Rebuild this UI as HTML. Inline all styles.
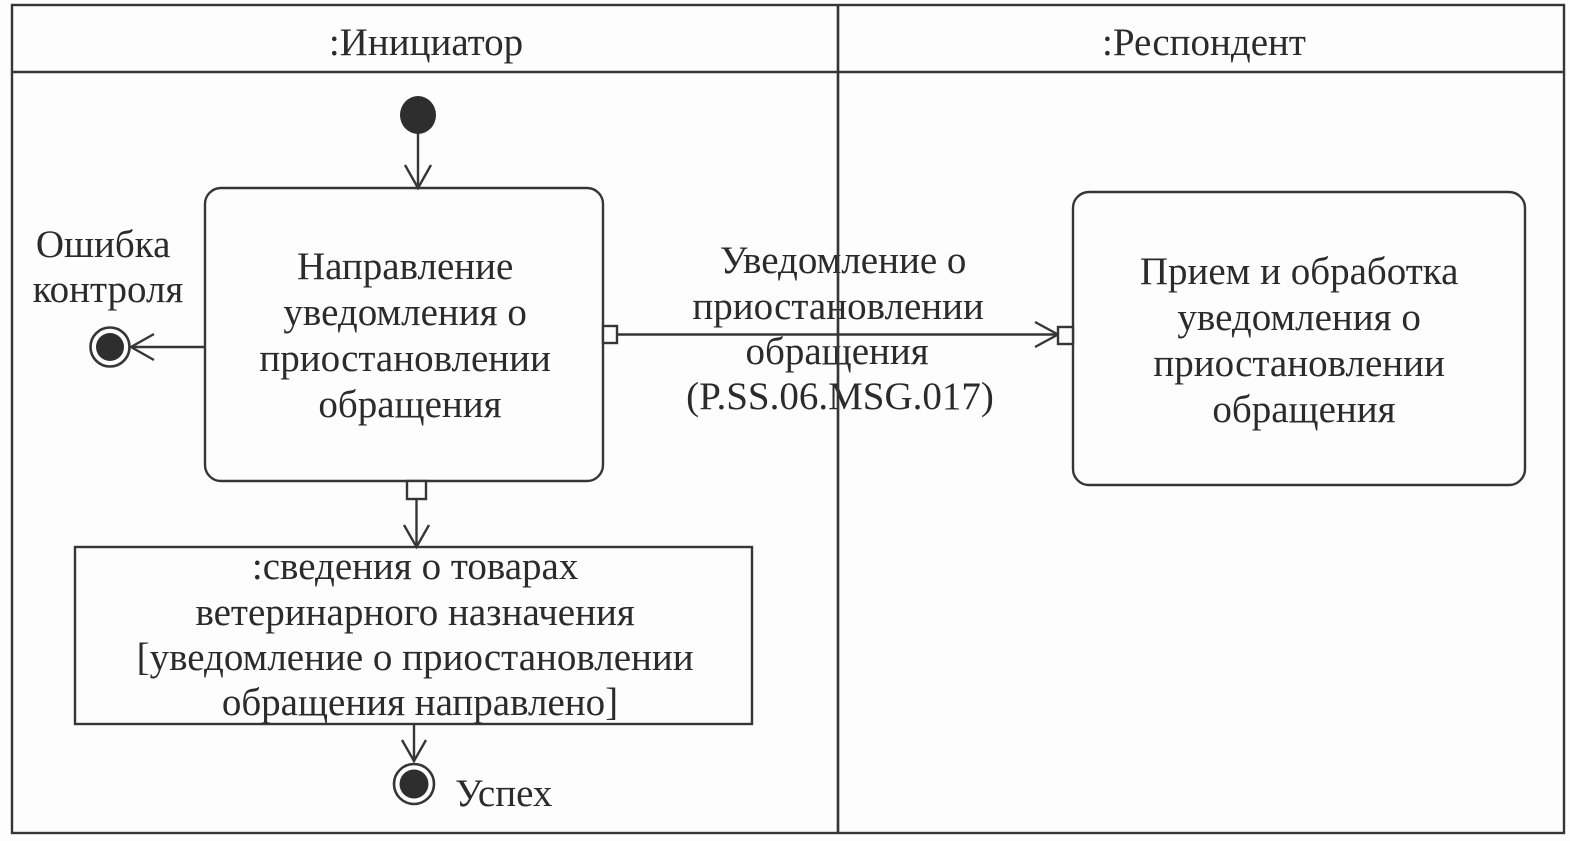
<!DOCTYPE html>
<html>
<head>
<meta charset="utf-8">
<style>
  html, body { margin:0; padding:0; background:#fdfdfd; }
  svg { display:block; }
  text { font-family: "Liberation Serif", "Noto Serif CJK SC", serif; font-size:39px; fill:#2b2b2b; }
</style>
</head>
<body>
<svg width="1570" height="841" viewBox="0 0 1570 841" xmlns="http://www.w3.org/2000/svg">
  <rect x="0" y="0" width="1570" height="841" fill="#fdfdfd"/>
  <g stroke="#363636" stroke-width="2.4" fill="none">
    <!-- frame -->
    <rect x="12" y="5" width="1552" height="828"/>
    <line x1="12" y1="72" x2="1564" y2="72"/>
    <line x1="838" y1="5" x2="838" y2="833"/>

    <!-- left action box -->
    <rect x="205" y="188" width="398" height="293" rx="16" ry="16"/>
    <!-- right action box -->
    <rect x="1073" y="192" width="452" height="293" rx="16" ry="16"/>
    <!-- object box -->
    <rect x="75" y="547" width="677" height="177"/>

    <!-- initial -> box -->
    <line x1="418" y1="130" x2="418" y2="188"/>
    <polyline points="405,165 418,188 431,165"/>

    <!-- box -> error final -->
    <line x1="205" y1="347" x2="131" y2="347"/>
    <polyline points="154,334 131,347 154,360"/>

    <!-- output pin right of left box & message line -->
    <rect x="603" y="326" width="14" height="17" fill="#fdfdfd"/>
    <line x1="617" y1="334.5" x2="1058" y2="334.5"/>
    <polyline points="1035,322 1058,334.5 1035,347"/>
    <rect x="1058" y="327" width="15" height="17" fill="#fdfdfd"/>

    <!-- bottom pin & arrow to object -->
    <rect x="407" y="481" width="19" height="18" fill="#fdfdfd"/>
    <line x1="416.5" y1="499" x2="416.5" y2="547"/>
    <polyline points="404,525 416.5,547 429,525"/>

    <!-- object -> success -->
    <line x1="414" y1="724" x2="414" y2="761"/>
    <polyline points="402,740 414,761 426,740"/>
  </g>

  <!-- initial node -->
  <ellipse cx="418" cy="115" rx="18" ry="19" fill="#2e2e2e"/>
  <!-- error final -->
  <circle cx="110" cy="347" r="19.5" fill="#fdfdfd" stroke="#363636" stroke-width="2.6"/>
  <circle cx="110" cy="347" r="14" fill="#2e2e2e"/>
  <!-- success final -->
  <circle cx="414" cy="784" r="20" fill="#fdfdfd" stroke="#363636" stroke-width="2.6"/>
  <circle cx="414" cy="784" r="14.5" fill="#2e2e2e"/>

  <!-- headers -->
  <text x="426" y="55" text-anchor="middle">:Инициатор</text>
  <text x="1204" y="55" text-anchor="middle">:Респондент</text>

  <!-- left box text -->
  <text text-anchor="middle">
    <tspan x="410" y="279">Направление</tspan>
    <tspan x="410" y="325">уведомления о</tspan>
    <tspan x="410" y="371">приостановлении</tspan>
    <tspan x="410" y="417">обращения</tspan>
  </text>

  <!-- right box text -->
  <text text-anchor="middle">
    <tspan x="1304" y="284">Прием и обработка</tspan>
    <tspan x="1304" y="330">уведомления о</tspan>
    <tspan x="1304" y="376">приостановлении</tspan>
    <tspan x="1304" y="422">обращения</tspan>
  </text>

  <!-- message label -->
  <text text-anchor="middle">
    <tspan x="848" y="273">Уведомление о</tspan>
    <tspan x="843" y="319">приостановлении</tspan>
    <tspan x="842" y="364">обращения</tspan>
    <tspan x="840" y="409">(P.SS.06.MSG.017)</tspan>
  </text>

  <!-- error label -->
  <text text-anchor="middle">
    <tspan x="108" y="257">Ошибка</tspan>
    <tspan x="108" y="302">контроля</tspan>
  </text>

  <!-- object text -->
  <text text-anchor="middle">
    <tspan x="420" y="579">:сведения о товарах</tspan>
    <tspan x="420" y="625">ветеринарного назначения</tspan>
    <tspan x="420" y="670">[уведомление о приостановлении</tspan>
    <tspan x="420" y="715">обращения направлено]</tspan>
  </text>

  <!-- success label -->
  <text x="455" y="806">Успех</text>

  <!-- divider drawn over label text -->
  <line x1="838" y1="5" x2="838" y2="833" stroke="#363636" stroke-width="2.4"/>
</svg>
</body>
</html>
